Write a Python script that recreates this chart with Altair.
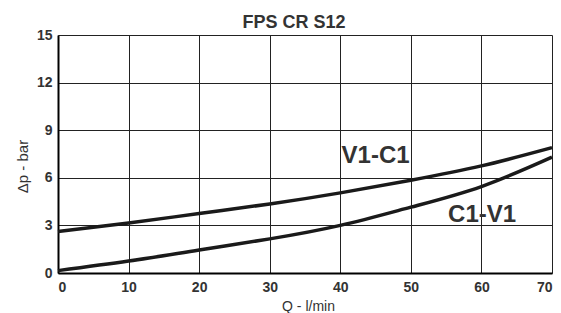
import altair as alt
import pandas as pd

flow = [0, 10, 20, 30, 40, 50, 60, 70]
v1_c1 = [2.62, 3.15, 3.75, 4.35, 5.05, 5.85, 6.75, 7.9]
c1_v1 = [0.15, 0.75, 1.45, 2.15, 3.0, 4.15, 5.45, 7.3]

labels = ["V1-C1", "C1-V1"]
label_x = [45.0, 60.1]
label_y = [7.4, 3.65]

rows = []
for q, a, b in zip(flow, v1_c1, c1_v1):
    rows.append({"Q": q, "dp": a, "curve": "V1-C1"})
    rows.append({"Q": q, "dp": b, "curve": "C1-V1"})
df = pd.DataFrame(rows)
lab = pd.DataFrame({"text": labels, "Q": label_x, "dp": label_y})

y_vals = [i * 1.5 for i in range(11)]

x_scale = alt.Scale(domain=[0, 70], nice=False, zero=False)
y_scale = alt.Scale(domain=[0, 15], nice=False)

lines = alt.Chart(df).mark_line(color="#1a1a1a", strokeWidth=3.5, interpolate="natural").encode(
    x=alt.X("Q:Q", scale=x_scale,
            axis=alt.Axis(values=flow, title="Q - l/min", grid=True, gridColor="#222", gridWidth=1,
                          gridOpacity=1, ticks=False, domainColor="#000", domainWidth=2,
                          labelFont="Liberation Sans", labelFontWeight="bold", labelFontSize=14,
                          labelColor="#333", labelPadding=7, titleFont="Liberation Sans",
                          titleFontWeight="normal", titleFontSize=14, titleColor="#333",
                          titleBaseline="middle", titleY=33, titleX=250)),
    y=alt.Y("dp:Q", scale=y_scale,
            axis=alt.Axis(values=y_vals, title="\u0394p - bar", grid=True, gridColor="#222", gridWidth=1,
                          gridOpacity=1, ticks=False, domainColor="#000", domainWidth=2,
                          labelExpr="datum.value % 3 == 0 ? format(datum.value, 'd') : ''",
                          labelFont="Liberation Sans", labelFontWeight="bold", labelFontSize=14,
                          labelColor="#333", labelPadding=6, titleFont="Liberation Sans",
                          titleFontWeight="normal", titleFontSize=15, titleColor="#333",
                          titleX=-36, titleY=131, titleBaseline="middle", titleAlign="center")),
    detail="curve:N",
)

texts = alt.Chart(lab).mark_text(font="Liberation Sans", fontWeight="bold", fontSize=24,
                                  color="#333").encode(
    x=alt.X("Q:Q", scale=x_scale),
    y=alt.Y("dp:Q", scale=y_scale),
    text="text:N",
)

chart = (lines + texts).properties(
    width=494, height=238,
    title=alt.TitleParams("FPS CR S12", font="Liberation Sans", fontSize=18, fontWeight="bold",
                          color="#333", anchor="middle", offset=-4, dx=-11),
    autosize=alt.AutoSizeParams(type="none"),
    padding={"left": 50, "top": 27, "right": 1, "bottom": 40},
).configure_view(stroke=None)

chart.save("out.html", embed_options={"renderer": "svg", "actions": False})
